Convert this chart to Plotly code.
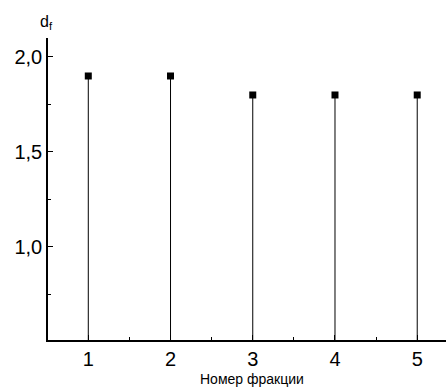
import plotly.graph_objects as go

fractions = [1, 2, 3, 4, 5]
df_values = [1.9, 1.9, 1.8, 1.8, 1.8]
y_range = [0.51, 2.1]
x_range = [0.51, 5.35]

fig = go.Figure()

# stems
sx, sy = [], []
for x, y in zip(fractions, df_values):
    sx += [x, x, None]
    sy += [y_range[0], y, None]
fig.add_trace(go.Scatter(x=sx, y=sy, mode="lines",
                         line=dict(color="black", width=1), hoverinfo="skip"))
fig.add_trace(go.Scatter(x=fractions, y=df_values, mode="markers",
                         marker=dict(symbol="square", size=7, color="black")))

font = "Liberation Sans, Arial, sans-serif"
fig.update_layout(
    width=446, height=388,
    margin=dict(l=48, r=0, t=38, b=48),
    plot_bgcolor="white", paper_bgcolor="white",
    showlegend=False,
    separators=", ",
    font=dict(family=font, color="black", size=20),
    xaxis=dict(range=x_range, tickvals=fractions, ticks="inside", ticklen=5,
               tickcolor="black", showline=True, linecolor="black", linewidth=1.5,
               showgrid=False, zeroline=False, automargin=False,
               minor=dict(tickvals=[1.5, 2.5, 3.5, 4.5], ticks="inside", ticklen=3, tickcolor="black"),
               tickfont=dict(size=20)),
    yaxis=dict(range=y_range, tickvals=[1.0, 1.5, 2.0], tickformat=".1f",
               ticks="inside", ticklen=5, tickcolor="black",
               showline=True, linecolor="black", linewidth=1.5,
               showgrid=False, zeroline=False, automargin=False,
               minor=dict(tickvals=[0.75, 1.25, 1.75], ticks="inside", ticklen=3, tickcolor="black"),
               tickfont=dict(size=20)),
    annotations=[
        dict(text="d<sub>f</sub>", xref="paper", yref="paper", x=0, y=1,
             xanchor="center", yanchor="bottom", yshift=4, xshift=-2,
             showarrow=False, font=dict(size=16)),
        dict(text="Номер фракции", xref="paper", yref="paper", x=0.5, y=0,
             xanchor="center", yanchor="top", yshift=-29, xshift=5,
             showarrow=False, font=dict(size=14)),
    ],
)

fig.write_html("out.html", config={"displayModeBar": False},
               post_script="document.body.style.margin='0';document.body.style.padding='0';")
